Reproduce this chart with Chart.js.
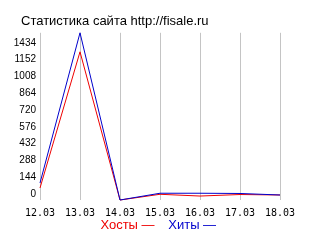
<!DOCTYPE html>
<html>
<head>
<meta charset="utf-8">
<title>Статистика сайта</title>
<script src="https://cdn.jsdelivr.net/npm/chart.js@4/dist/chart.umd.min.js"></script>
<style>
  html, body { margin: 0; padding: 0; background: #fff; }
  #chart { display: block; }
</style>
</head>
<body>
<canvas id="chart" width="320" height="240"></canvas>
<script>
// ----------------------
// Data
// ----------------------
const days = ["12.03", "13.03", "14.03", "15.03", "16.03", "17.03", "18.03"];
const hosts = [103, 1271, 0, 49, 34, 47, 43];
const hits = [146, 1434, 0, 58, 58, 56, 43];
const yTickValues = [0, 144, 288, 432, 576, 720, 864, 1008, 1152, 1296];
const yTickLabels = ["0", "144", "288", "432", "576", "720", "864", "1008", "1152", "1434"];

const RED = "#ee0000";
const BLUE = "#0000cc";
const GRID = "#c4c4c4";
const SANS = "'Liberation Sans', Arial, sans-serif";

// nudge title, legend and x labels after layout
const nudge = {
  id: "nudge",
  afterLayout(chart) {
    if (chart.titleBlock) { chart.titleBlock.left += 7; chart.titleBlock.right += 7; }
    if (chart.legend) { chart.legend.left += 8; chart.legend.right += 8; }
    const x = chart.scales.x;
    x.top += 4; x.bottom += 4;
  }
};

// ----------------------
// Chart
// ----------------------
const ctx = document.getElementById("chart").getContext("2d");

new Chart(ctx, {
  type: "line",
  data: {
    labels: days,
    datasets: [
      { label: "Хосты", data: hosts, borderColor: RED, order: 1 },
      { label: "Хиты", data: hits, borderColor: BLUE, order: 0 }
    ]
  },
  plugins: [nudge],
  options: {
    responsive: false,
    animation: false,
    layout: { padding: { left: 14, right: 40, top: 0, bottom: -2 } },
    elements: {
      line: { borderWidth: 1, tension: 0, fill: false },
      point: { radius: 0, hoverRadius: 0 }
    },
    datasets: { line: { clip: false } },
    plugins: {
      title: {
        display: true,
        text: "Статистика сайта http://fisale.ru",
        align: "start",
        color: "#000",
        font: { family: SANS, size: 13, weight: "normal" },
        padding: { top: 14, bottom: 3.2 }
      },
      legend: {
        display: true,
        position: "bottom",
        labels: {
          boxWidth: 0,
          boxHeight: 0,
          padding: 0,
          font: { family: SANS, size: 13 },
          generateLabels: chart => chart.data.datasets.map((ds, i) => ({
            text: (i > 0 ? "  " : "") + ds.label + " —",
            fontColor: ds.borderColor,
            fillStyle: "rgba(0,0,0,0)",
            strokeStyle: "rgba(0,0,0,0)",
            lineWidth: 0,
            hidden: false,
            datasetIndex: i
          }))
        }
      },
      tooltip: { enabled: false }
    },
    scales: {
      x: {
        type: "category",
        offset: false,
        grid: { display: true, color: GRID, lineWidth: 1, drawTicks: false },
        border: { display: false },
        ticks: {
          color: "#000",
          padding: 9,
          maxRotation: 0,
          autoSkip: false,
          font: { family: "'DejaVu Sans Mono', monospace", size: 10, lineHeight: "1px" }
        }
      },
      y: {
        min: 0,
        max: 1434,
        grid: { display: false, drawTicks: false },
        border: { display: false },
        afterFit: scale => { scale.width = 26; },
        afterBuildTicks: scale => { scale.ticks = yTickValues.map(v => ({ value: v })); },
        ticks: {
          color: "#000",
          padding: 4,
          labelOffset: -6,
          autoSkip: false,
          font: { family: SANS, size: 10 },
          callback: (value, index) => yTickLabels[index]
        }
      }
    }
  }
});
</script>
</body>
</html>
